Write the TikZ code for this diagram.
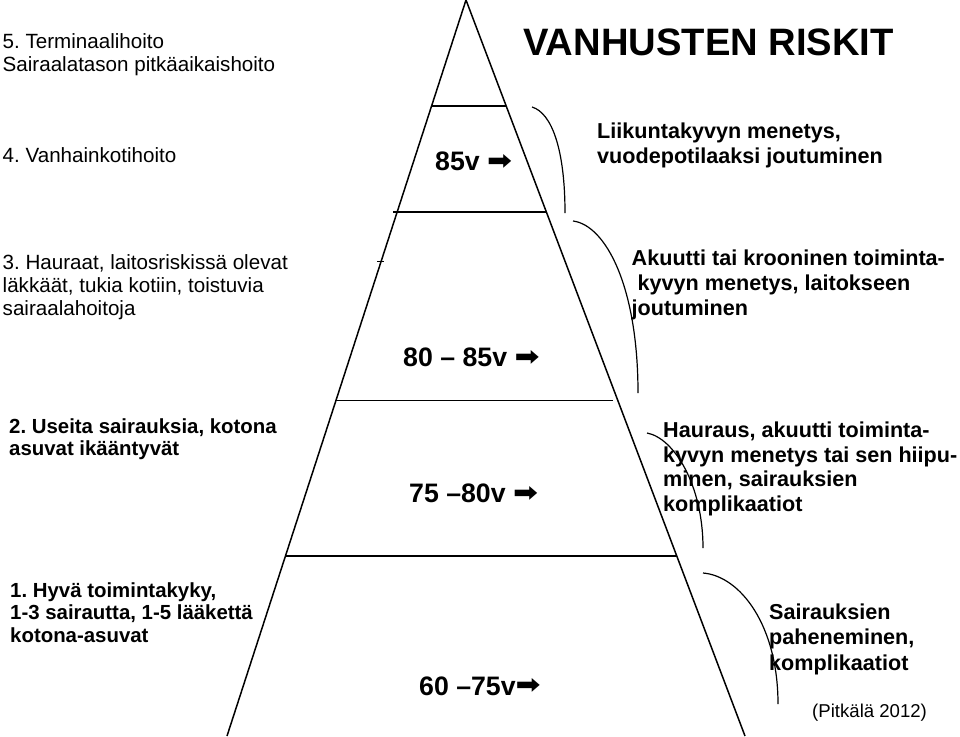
\documentclass[tikz,border=0pt]{standalone}
\usepackage{fontspec}
\setmainfont{Liberation Sans}
\newfontfamily\dejavu{DejaVu Sans}
\frenchspacing
\begin{document}
\begin{tikzpicture}[x=1pt,y=-1pt]
\tikzset{
 lt/.style={anchor=base west, inner sep=0pt, align=left, font=\fontsize{20.6}{22.6}\selectfont},
 ltb/.style={lt, font=\bfseries\fontsize{20.4}{22.5}\selectfont},
 rt/.style={anchor=base west, inner sep=0pt, align=left, font=\bfseries\fontsize{21.6}{24.6}\selectfont},
 age/.style={anchor=base west, inner sep=0pt, font=\bfseries\fontsize{26.7}{30}\selectfont},
 ttl/.style={anchor=base west, inner sep=0pt, font=\bfseries\fontsize{38.2}{42}\selectfont},
 cite/.style={anchor=base west, inner sep=0pt, font=\fontsize{18.6}{22}\selectfont},
 pyr/.style={line width=1.5pt},
 brk/.style={line width=1.2pt},
}
\newcommand{\arr}{\raisebox{1.2pt}{\resizebox{25pt}{15pt}{\dejavu ➡}}}
\useasboundingbox (0,0) rectangle (960,736);
% pyramid
\coordinate (apex) at (466,0);
\coordinate (bl) at (227,736);
\coordinate (br) at (745,736);
\draw[pyr] (bl) -- (apex) -- (br);
\coordinate (h1l) at (432,106); \coordinate (h1r) at (506,106);
\coordinate (h2l) at (393,212); \coordinate (h2r) at (547,212);
\coordinate (h3l) at (336,400.5); \coordinate (h3r) at (613,400.5);
\coordinate (h4l) at (286,556); \coordinate (h4r) at (677,556);
\draw[pyr] (h1l) -- (h1r);
\draw[pyr] (h2l) -- (h2r);
\draw[pyr] (h3l) -- (h3r);
\draw[pyr] (h4l) -- (h4r);
\coordinate (tk1) at (377,261); \coordinate (tk2) at (384,261);
\draw[line width=1pt] (tk1) -- (tk2);
% brackets
\coordinate (b1s) at (532,107); \coordinate (b1e) at (565,213);
\coordinate (b2s) at (573,221); \coordinate (b2e) at (638,393);
\coordinate (b3s) at (647,433); \coordinate (b3e) at (703,548);
\coordinate (b4s) at (703,573); \coordinate (b4e) at (778,704);
\draw[brk] (b1s) .. controls (552,113) and (565,150) .. (b1e);
\draw[brk] (b2s) .. controls (605,225) and (638,285) .. (b2e);
\draw[brk] (b3s) .. controls (674,438) and (703,485) .. (b3e);
\draw[brk] (b4s) .. controls (740,576) and (778,625) .. (b4e);
% title
\node[ttl] (title) at (523,55) {VANHUSTEN RISKIT};
% left texts (anchor = baseline of last line)
\node[lt] (l5) at (2.5,71) {5. Terminaalihoito\\Sairaalatason pitkäaikaishoito};
\node[lt] (l4) at (2.5,162) {4. Vanhainkotihoito};
\node[lt] (l3) at (2.5,315) {3. Hauraat, laitosriskissä olevat\\läkkäät, tukia kotiin, toistuvia\\sairaalahoitoja};
\node[ltb] (l2) at (9,455.5) {2. Useita sairauksia, kotona\\asuvat ikääntyvät};
\node[ltb,font=\bfseries\fontsize{20.4}{22.7}\selectfont] (l1) at (10,642.5) {1. Hyvä toimintakyky,\\1-3 sairautta, 1-5 lääkettä\\kotona-asuvat};
% ages
\node[age] (a4) at (435,170.5) {85v \arr};
\node[age] (a3) at (403,366.5) {80 – 85v \arr};
\node[age] (a2) at (409,502.5) {75 –80v \arr};
\node[age] (a1) at (419,695) {60 –75v\arr};
% right texts
\node[rt,font=\bfseries\fontsize{21.6}{25}\selectfont] (r4) at (597,163) {Liikuntakyvyn menetys,\\vuodepotilaaksi joutuminen};
\node[rt,font=\bfseries\fontsize{21.6}{24.7}\selectfont] (r3) at (631.5,315) {Akuutti tai krooninen toiminta-\\\hspace*{6pt}kyvyn menetys, laitokseen\\joutuminen};
\node[rt,font=\bfseries\fontsize{21.6}{24.5}\selectfont] (r2) at (663,511) {Hauraus, akuutti toiminta-\\kyvyn menetys tai sen hiipu-\\minen, sairauksien\\komplikaatiot};
\node[rt,font=\bfseries\fontsize{21.6}{25.3}\selectfont] (r1) at (769,670) {Sairauksien\\paheneminen,\\komplikaatiot};
\node[cite] (cite) at (812,717) {(Pitkälä 2012)};
\end{tikzpicture}
\end{document}
